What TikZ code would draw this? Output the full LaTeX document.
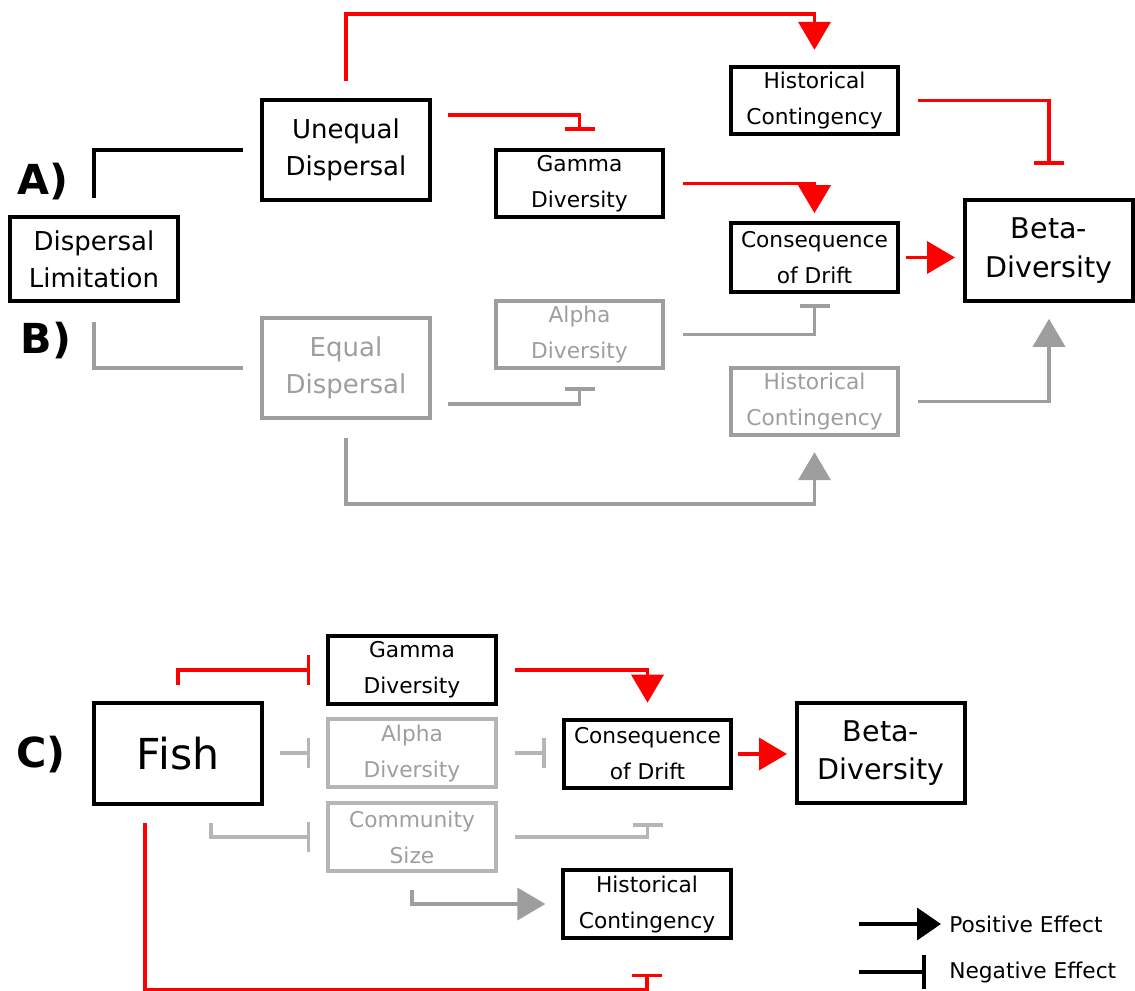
\documentclass[tikz,border=0pt]{standalone}
\usepackage{fontspec}
\setmainfont{DejaVu Sans}
\usetikzlibrary{arrows.meta,calc}

\definecolor{midgrey}{RGB}{158,158,158}
\definecolor{lightgrey}{RGB}{182,182,182}
\definecolor{effred}{RGB}{255,0,0}

\begin{document}
\begin{tikzpicture}[
  x=0.75pt, y=-0.75pt,
  box/.style={draw, line width=3pt, inner sep=0pt, align=center},
  bigbox/.style={box, minimum width=126pt, minimum height=75pt,
    font=\fontsize{19.5}{28}\selectfont},
  betabox/.style={box, minimum width=126pt, minimum height=75.5pt,
    font=\fontsize{21.4}{29}\selectfont},
  smallbox/.style={box, minimum width=125.5pt, minimum height=50.5pt,
    font=\fontsize{16.3}{27}\selectfont},
  driftbox/.style={smallbox, minimum height=51.5pt},
  faintA/.style={draw=midgrey, text=midgrey},
  faintC/.style={draw=lightgrey, text=midgrey},
  panel/.style={font=\fontsize{31}{32}\selectfont\bfseries, inner sep=0pt},
  link/.style={line width=2.8pt},
  posarrow/.style={link, -{Triangle[length=21pt,width=24pt]}},
  negarrow/.style={link, -{Bar[width=22.5pt]}},
  legendtext/.style={anchor=west, inner sep=0pt, font=\fontsize{16.3}{20}\selectfont},
]
\useasboundingbox (0,0) rectangle (1135,990);

% ---------- panels A and B ----------
\node[panel] (labA) at (43,182) {A)};
\node[panel] (labB) at (46,341) {B)};

\node[bigbox] (dl) at (94,259) [minimum height=63pt] {Dispersal\\Limitation};
\node[bigbox] (ud) at (346,150) {Unequal\\Dispersal};
\node[bigbox, faintA] (ed) at (346,368) {Equal\\Dispersal};

\node[smallbox] (hcA) at (814.5,100.5) {Historical\\Contingency};
\node[smallbox] (gA) at (579.5,183.5) {Gamma\\Diversity};
\node[driftbox] (cdA) at (814.5,257.5) {Consequence\\of Drift};
\node[betabox] (bA) at (1049,250.5) {Beta-\\Diversity};
\node[smallbox, faintA] (aA) at (579.5,334.5) {Alpha\\Diversity};
\node[smallbox, faintA] (hcB) at (814.5,401.5) {Historical\\Contingency};

% dispersal limitation splits into the two cases
\draw[link] ($(dl.north)+(0,-17)$) |- ($(ud.west)+(-17,0)$);
\draw[link, midgrey] ($(dl.south)+(0,19)$) |- ($(ed.west)+(-17,0)$);

% unequal dispersal
\draw[posarrow, effred] ($(ud.north)+(0,-17)$) |- ($(hcA.north)+(0,-51)$) -- ($(hcA.north)+(0,-15)$);
\draw[negarrow, effred] ($(ud.north east)+(16,17)$) -| ($(gA.north)+(0,-17)$);
\draw[posarrow, effred] ($(gA.east)+(18,0)$) -| ($(cdA.north)+(0,-8)$);
\draw[posarrow, effred] ($(cdA.east)+(6,0)$) -- ($(cdA.east -| bA.west)+(-8,0)$);
\draw[negarrow, effred] ($(hcA.east)+(18,0)$) -| ($(bA.north)+(0,-33)$);

% equal dispersal
\draw[negarrow, midgrey] ($(aA.east)+(18,0)$) -| ($(cdA.south)+(0,10)$);
\draw[negarrow, midgrey] ($(ed.south east)+(16,-16)$) -| ($(aA.south)+(0,17)$);
\draw[posarrow, midgrey] ($(hcB.east)+(18,0)$) -| ($(bA.south)+(0,16)$);
\draw[posarrow, midgrey] ($(ed.south)+(0,18)$) |- ($(hcB.south)+(0,67)$) -- ($(hcB.south)+(0,15)$);

% ---------- panel C ----------
\node[panel] (labC) at (41,755) {C)};

\node[box, minimum width=126pt, minimum height=75.75pt,
      font=\fontsize{32}{36}\selectfont] (fish) at (178,753.5) {Fish};
\node[smallbox] (gC) at (412,670) {Gamma\\Diversity};
\node[smallbox, faintC] (aC) at (412,753) {Alpha\\Diversity};
\node[smallbox, faintC] (csC) at (412,837) {Community\\Size};
\node[driftbox] (cdC) at (647.5,754) {Consequence\\of Drift};
\node[betabox] (bC) at (881,753) {Beta-\\Diversity};
\node[smallbox] (hcC) at (647,904) {Historical\\Contingency};

\draw[negarrow, effred] ($(fish.north)+(0,-16)$) |- ($(gC.west)+(-16,0)$);
\draw[negarrow, lightgrey] ($(fish.east |- aC.west)+(16,0)$) -- ($(aC.west)+(-16,0)$);
\draw[negarrow, lightgrey] ($(aC.east)+(17,0)$) -- ($(aC.east -| cdC.west)+(-16,0)$);
\draw[posarrow, effred] ($(gC.east)+(17,0)$) -| ($(cdC.north)+(0,-15)$);
\draw[posarrow, effred] ($(cdC.east)+(5,0)$) -- ($(cdC.east -| bC.west)+(-8,0)$);
\draw[negarrow, lightgrey] ($(fish.south)+(33,17)$) |- ($(csC.west)+(-16,0)$);
\draw[negarrow, lightgrey] ($(csC.east)+(17,0)$) -| ($(cdC.south)+(0,33)$);
\draw[posarrow, midgrey] ($(csC.south)+(0,17)$) |- ($(hcC.west)+(-16,0)$);
\draw[negarrow, effred] ($(fish.south)+(-33,17)$) |- ($(hcC.south)+(0,50)$) -- ($(hcC.south)+(0,34)$);

% ---------- legend ----------
\node[legendtext] (lpos) at (949,924) {Positive Effect};
\node[legendtext] (lneg) at (949,972) {Negative Effect};
\coordinate (lpos0) at (859,924);
\coordinate (lneg0) at (859,972);
\draw[link, -{Triangle[length=18pt,width=24pt]}] (lpos0) -- ($(lpos.west)+(-8,0)$);
\draw[link, -{Bar[width=26pt, line width=3.2pt]}] (lneg0) -- ($(lneg.west)+(-23,0)$);

\end{tikzpicture}
\end{document}
